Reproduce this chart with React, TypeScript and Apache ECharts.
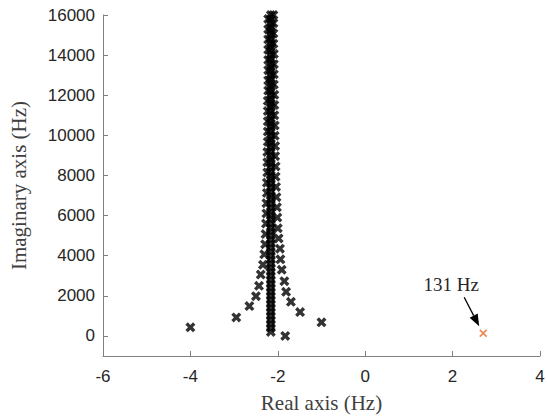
import React, { useEffect, useRef } from "react";
import * as echarts from "echarts";

// Real part (Hz) and imaginary part (Hz) of each branch
const leftRe = [-4.0, -2.95, -2.65, -2.5, -2.43, -2.39, -2.34, -2.31, -2.29, -2.28, -2.27, -2.26, -2.26, -2.25, -2.25, -2.24, -2.24, -2.24, -2.23, -2.23, -2.23, -2.23, -2.23, -2.22, -2.22, -2.22, -2.22, -2.22, -2.22, -2.22, -2.22];
const leftIm = [430, 925, 1490, 1980, 2500, 3060, 3550, 4070, 4570, 5080, 5600, 6110, 6620, 7130, 7640, 8150, 8660, 9170, 9680, 10190, 10700, 11210, 11720, 12230, 12740, 13250, 13760, 14270, 14780, 15290, 15800];

const rightRe = [-1.0, -1.49, -1.7, -1.81, -1.85, -1.91, -1.94, -1.95, -1.98, -2.0, -2.01, -2.02, -2.03, -2.04, -2.05, -2.05, -2.06, -2.06, -2.07, -2.07, -2.08, -2.08, -2.08, -2.09, -2.09, -2.09, -2.09, -2.1, -2.1, -2.1, -2.1];
const rightIm = [680, 1190, 1700, 2200, 2730, 3300, 3820, 4350, 4860, 5370, 5900, 6410, 6920, 7430, 7940, 8450, 8960, 9470, 9980, 10490, 11000, 11510, 12020, 12530, 13040, 13550, 14060, 14570, 15080, 15590, 16000];

const centerRe = -2.16;
const centerIm = [200, 400, 600, 800, 1000, 1200, 1400, 1600, 1800, 2000, 2200, 2400, 2600, 2800, 3000, 3200, 3400, 3600, 3800, 4000, 4200, 4400, 4600, 4800, 5000, 5200, 5400, 5600, 5800, 6000, 6200, 6400, 6600, 6800, 7000, 7200, 7400, 7600, 7800, 8000, 8200, 8400, 8600, 8800, 9000, 9200, 9400, 9600, 9800, 10000, 10200, 10400, 10600, 10800, 11000, 11200, 11400, 11600, 11800, 12000, 12200, 12400, 12600, 12800, 13000, 13200, 13400, 13600, 13800, 14000, 14200, 14400, 14600, 14800, 15000, 15200, 15400, 15600, 15800, 16000];

const lonePole = [-1.83, 0];
const unstablePole = [2.7, 131];
const unstableLabel = "131 Hz";

const yTicks = [0, 2000, 4000, 6000, 8000, 10000, 12000, 14000, 16000];

const CROSS = "path://M0,2.4L2.4,0L5,2.6L7.6,0L10,2.4L7.4,5L10,7.6L7.6,10L5,7.4L2.4,10L0,7.6L2.6,5Z";
const CROSS_THIN = "path://M0,1.5L1.5,0L5,3.5L8.5,0L10,1.5L6.5,5L10,8.5L8.5,10L5,6.5L1.5,10L0,8.5L3.5,5Z";

export default function App() {
  const ref = useRef<HTMLDivElement>(null);
  useEffect(() => {
    document.body.style.margin = "0";
    const chart = echarts.init(ref.current!, null, { renderer: "svg" });
    const blackData: number[][] = [];
    leftRe.forEach((x, i) => blackData.push([x, leftIm[i]]));
    rightRe.forEach((x, i) => blackData.push([x, rightIm[i]]));
    centerIm.forEach((y) => blackData.push([centerRe, y]));
    blackData.push(lonePole);

    const axisColor = "#808080";
    const labelColor = "#262626";
    chart.setOption({
      animation: false,
      grid: { left: 103, right: 8, top: 15, bottom: 62 },
      xAxis: {
        type: "value",
        min: -6,
        max: 4,
        interval: 2,
        name: "Real axis (Hz)",
        nameLocation: "middle",
        nameGap: 36,
        nameTextStyle: { fontFamily: "Liberation Serif", fontSize: 21, color: "#404040" },
        axisLine: { show: true, onZero: false, lineStyle: { color: axisColor, width: 1 } },
        axisTick: { show: true, inside: true, length: 5, lineStyle: { color: axisColor } },
        axisLabel: { color: labelColor, fontFamily: "Liberation Sans", fontSize: 17, margin: 12, formatter: (v: number) => String(v) },
        splitLine: { show: false },
      },
      yAxis: {
        type: "value",
        min: -1000,
        max: 16000,
        name: "Imaginary axis (Hz)",
        nameLocation: "middle",
        nameGap: 74,
        nameTextStyle: { fontFamily: "Liberation Serif", fontSize: 21, color: "#404040" },
        axisLine: { show: true, onZero: false, lineStyle: { color: axisColor, width: 1 } },
        axisTick: { show: true, inside: true, length: 5, lineStyle: { color: axisColor }, customValues: yTicks },
        axisLabel: { color: labelColor, fontFamily: "Liberation Sans", fontSize: 17, margin: 8, customValues: yTicks, formatter: (v: number) => String(v) },
        splitLine: { show: false },
      },
      series: [
        {
          type: "scatter",
          data: blackData,
          symbol: CROSS,
          symbolSize: 10,
          itemStyle: { color: "#000000" },
        },
        {
          type: "scatter",
          data: [unstablePole],
          symbol: CROSS_THIN,
          symbolSize: 8,
          itemStyle: { color: "#EA6A2C" },
        },
      ],
    });

    const p = chart.convertToPixel({ xAxisIndex: 0, yAxisIndex: 0 }, unstablePole) as number[];
    const tip = [p[0] - 4, p[1] - 7];
    const tail = [p[0] - 19, p[1] - 36];
    const dx = tip[0] - tail[0];
    const dy = tip[1] - tail[1];
    const len = Math.sqrt(dx * dx + dy * dy);
    const ux = dx / len, uy = dy / len;
    const hl = 12, hw = 4.5;
    const base = [tip[0] - ux * hl, tip[1] - uy * hl];
    chart.setOption({
      graphic: [
        {
          type: "line",
          shape: { x1: tail[0], y1: tail[1], x2: base[0], y2: base[1] },
          style: { stroke: "#000", lineWidth: 1.3 },
        },
        {
          type: "polygon",
          shape: {
            points: [
              tip,
              [base[0] - uy * hw, base[1] + ux * hw],
              [base[0] + uy * hw, base[1] - ux * hw],
            ],
          },
          style: { fill: "#000" },
        },
        {
          type: "text",
          x: p[0] - 32,
          y: p[1] - 49,
          style: {
            text: unstableLabel,
            fontFamily: "Liberation Serif",
            fontSize: 19,
            fill: "#262626",
            align: "center",
            verticalAlign: "middle",
          },
        },
      ],
    });
    return () => chart.dispose();
  }, []);
  return <div ref={ref} style={{ width: 548, height: 418 }} />;
}
